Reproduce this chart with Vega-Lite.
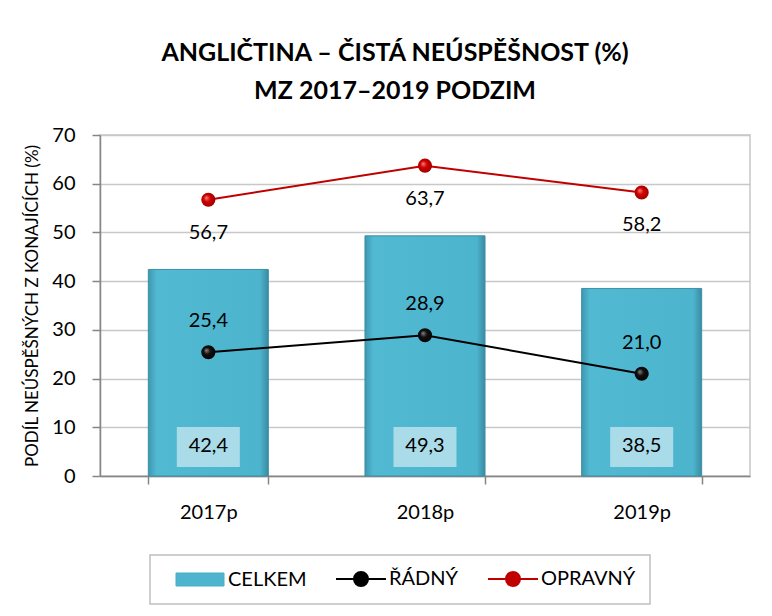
{
  "$schema": "https://vega.github.io/schema/vega-lite/v6.json",
  "width": 650,
  "height": 341,
  "autosize": {"type": "none"},
  "padding": {"left": 100, "top": 135, "right": 22, "bottom": 140},
  "background": "white",
  "config": {
    "locale": {"number": {"decimal": ",", "thousands": " ", "grouping": [3], "currency": ["", ""]}},
    "font": "Lato",
    "view": {"stroke": "#C8C8C8", "strokeWidth": 1.5}
  },
  "title": {
    "text": ["ANGLIČTINA – ČISTÁ NEÚSPĚŠNOST (%)", "MZ 2017–2019 PODZIM"],
    "font": "Lato",
    "fontSize": 25,
    "fontWeight": "bold",
    "color": "black",
    "lineHeight": 38,
    "anchor": "middle",
    "frame": "group",
    "dx": -30,
    "offset": 21
  },
  "data": {
    "values": [
      {"year": "2017p", "series": "CELKEM", "value": 42.4},
      {"year": "2018p", "series": "CELKEM", "value": 49.3},
      {"year": "2019p", "series": "CELKEM", "value": 38.5},
      {"year": "2017p", "series": "ŘÁDNÝ", "value": 25.4},
      {"year": "2018p", "series": "ŘÁDNÝ", "value": 28.9},
      {"year": "2019p", "series": "ŘÁDNÝ", "value": 21.0},
      {"year": "2017p", "series": "OPRAVNÝ", "value": 56.7},
      {"year": "2018p", "series": "OPRAVNÝ", "value": 63.7},
      {"year": "2019p", "series": "OPRAVNÝ", "value": 58.2}
    ]
  },
  "encoding": {
    "x": {
      "field": "year",
      "type": "nominal",
      "sort": null,
      "scale": {"paddingInner": 0.446, "paddingOuter": 0.223},
      "axis": {
        "title": null,
        "labelAngle": 0,
        "labelFont": "Lato",
        "labelFontSize": 20,
        "labelColor": "black",
        "labelPadding": 18,
        "domainColor": "#868686",
        "domainWidth": 1.5,
        "tickColor": "#868686",
        "tickWidth": 1.5,
        "tickSize": 8,
        "tickBand": "extent",
        "grid": false
      }
    },
    "y": {
      "field": "value",
      "type": "quantitative",
      "scale": {"domain": [0, 70], "nice": false},
      "axis": {
        "title": "PODÍL NEÚSPĚŠNÝCH Z KONAJÍCÍCH (%)",
        "titleFont": "Lato",
        "titleFontSize": 17,
        "titleFontWeight": "normal",
        "titleColor": "black",
        "titlePadding": 10,
        "values": [0, 10, 20, 30, 40, 50, 60, 70],
        "labelFont": "Lato",
        "labelFontSize": 20,
        "labelColor": "black",
        "labelPadding": 17,
        "domainColor": "#868686",
        "domainWidth": 1.5,
        "tickColor": "#868686",
        "tickWidth": 1.5,
        "tickSize": 8,
        "gridColor": "#C8C8C8",
        "gridWidth": 1.5
      }
    }
  },
  "layer": [
    {
      "transform": [{"filter": "datum.series === 'CELKEM'"}],
      "mark": {
        "type": "bar",
        "stroke": "#3B8FA6",
        "strokeWidth": 1,
        "fill": {
          "gradient": "linear",
          "x1": 0, "y1": 0, "x2": 1, "y2": 0,
          "stops": [
            {"offset": 0, "color": "#3E98B0"},
            {"offset": 0.07, "color": "#52B9D3"},
            {"offset": 0.93, "color": "#4DB4CE"},
            {"offset": 1, "color": "#3A8BA2"}
          ]
        }
      }
    },
    {
      "transform": [{"filter": "datum.series === 'CELKEM'"}],
      "mark": {"type": "bar", "width": 63, "color": "#A9DBE8"},
      "encoding": {"y": {"datum": 1.85}, "y2": {"datum": 10.06}}
    },
    {
      "transform": [{"filter": "datum.series === 'CELKEM'"}],
      "mark": {"type": "text", "font": "Lato", "fontSize": 20, "color": "black", "baseline": "middle"},
      "encoding": {"y": {"datum": 6.1}, "text": {"field": "value", "type": "quantitative", "format": ".1f"}}
    },
    {
      "transform": [{"filter": "datum.series !== 'CELKEM'"}],
      "mark": {"type": "line", "strokeWidth": 2},
      "encoding": {
        "color": {
          "field": "series",
          "type": "nominal",
          "scale": {"domain": ["CELKEM", "ŘÁDNÝ", "OPRAVNÝ"], "range": ["#4BACC6", "#000000", "#C00000"]},
          "legend": {
            "title": null,
            "orient": "none",
            "legendX": 50,
            "legendY": 420,
            "direction": "horizontal",
            "symbolSize": 2500,
            "symbolStrokeWidth": 2,
            "symbolOffset": 26,
            "labelFont": "Lato",
            "labelFontSize": 20,
            "labelColor": "black",
            "labelLimit": 300,
            "labelOffset": 18,
            "columnPadding": 18,
            "padding": 14,
            "encode": {
              "legend": {
                "update": {
                  "stroke": {"value": "#BFBFBF"},
                  "strokeWidth": {"value": 1.5},
                  "fill": {"value": "white"}
                }
              },
              "symbols": {
                "update": {
                  "size": {"value": 2500},
                  "shape": {"signal": "datum.value === 'CELKEM' ? 'M-0.96,-0.26H0.96V0.26H-0.96Z' : 'M-1,0H-0.28M0.28,0H1M-0.28,0A0.28,0.28 0 1,0 0.28,0A0.28,0.28 0 1,0 -0.28,0Z'"},
                  "fill": {"signal": "datum.value === 'CELKEM' ? '#4FB5CF' : (datum.value === 'ŘÁDNÝ' ? '#000000' : '#C00000')"},
                  "stroke": {"signal": "datum.value === 'CELKEM' ? '#3B8FA6' : (datum.value === 'ŘÁDNÝ' ? '#000000' : '#C00000')"},
                  "opacity": {"value": 1},
                  "fillOpacity": {"value": 1},
                  "strokeWidth": {"signal": "datum.value === 'CELKEM' ? 1 : 2"}
                }
              }
            }
          }
        }
      }
    },
    {
      "transform": [{"filter": "datum.series === 'ŘÁDNÝ'"}],
      "mark": {
        "type": "point",
        "shape": "circle",
        "size": 200,
        "opacity": 1,
        "filled": true,
        "fill": {
          "gradient": "radial",
          "x1": 0.35, "y1": 0.35, "r1": 0,
          "x2": 0.5, "y2": 0.5, "r2": 0.6,
          "stops": [
            {"offset": 0, "color": "#888888"},
            {"offset": 0.4, "color": "#111111"},
            {"offset": 1, "color": "#000000"}
          ]
        }
      }
    },
    {
      "transform": [{"filter": "datum.series === 'OPRAVNÝ'"}],
      "mark": {
        "type": "point",
        "shape": "circle",
        "size": 200,
        "opacity": 1,
        "filled": true,
        "fill": {
          "gradient": "radial",
          "x1": 0.35, "y1": 0.35, "r1": 0,
          "x2": 0.5, "y2": 0.5, "r2": 0.6,
          "stops": [
            {"offset": 0, "color": "#FF8080"},
            {"offset": 0.4, "color": "#D00000"},
            {"offset": 1, "color": "#900000"}
          ]
        }
      }
    },
    {
      "transform": [{"filter": "datum.series === 'ŘÁDNÝ'"}],
      "mark": {"type": "text", "font": "Lato", "fontSize": 20, "color": "black", "baseline": "middle", "dy": -31},
      "encoding": {"text": {"field": "value", "type": "quantitative", "format": ".1f"}}
    },
    {
      "transform": [{"filter": "datum.series === 'OPRAVNÝ'"}],
      "mark": {"type": "text", "font": "Lato", "fontSize": 20, "color": "black", "baseline": "middle", "dy": 33},
      "encoding": {"text": {"field": "value", "type": "quantitative", "format": ".1f"}}
    }
  ]
}
